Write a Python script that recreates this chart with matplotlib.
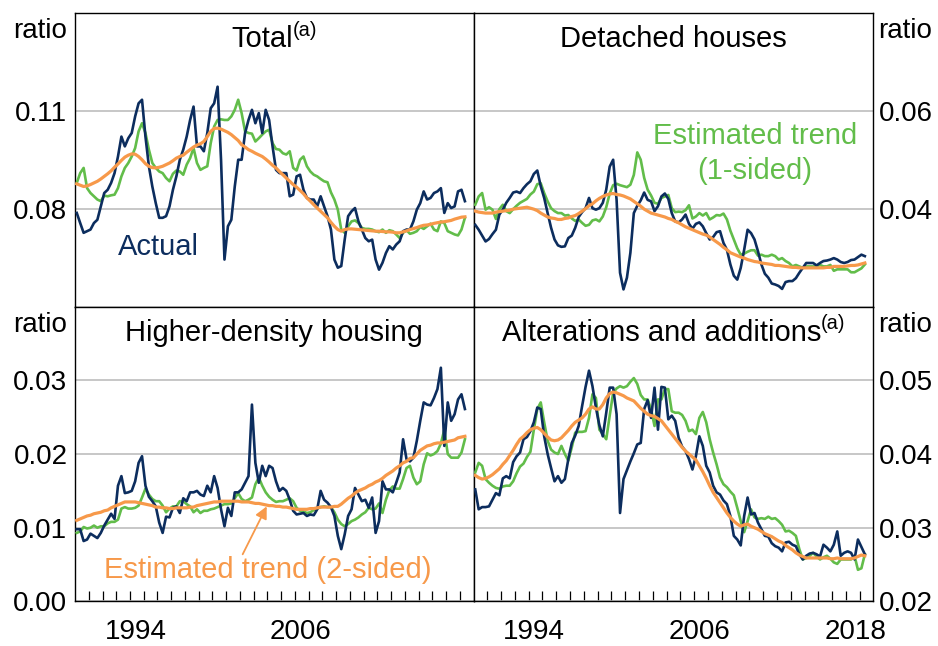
import numpy as np
import matplotlib
matplotlib.use('Agg')
import matplotlib.pyplot as plt

plt.rcParams['font.family'] = ['Liberation Sans', 'DejaVu Sans']

# quarterly observations, 1990 Q1 to 2018 Q2 (ratios, in thousandths)
quarters = 1990.125 + 0.25 * np.arange(114)

total_actual = [
    78.7, 75.6, 72.6, 73.1, 73.6, 75.6, 76.6, 80.7, 84.8, 85.8,
    87.9, 90.9, 96.0, 102.1, 99.1, 101.6, 103.2, 108.3, 112.3, 113.4,
    102.1, 93.0, 86.8, 81.7, 77.2, 77.2, 77.7, 80.7, 85.8, 89.9,
    95.0, 98.1, 102.1, 107.2, 111.3, 99.1, 99.1, 97.6, 103.2, 110.8,
    112.3, 117.4, 95.0, 64.4, 74.6, 76.6, 86.8, 95.0, 95.0, 103.2,
    107.2, 110.3, 106.2, 109.3, 103.2, 110.3, 107.2, 99.1, 91.9, 90.9,
    90.9, 90.9, 83.8, 84.3, 89.9, 90.4, 85.8, 83.3, 82.8, 82.8,
    80.7, 83.8, 80.7, 77.7, 73.6, 64.4, 61.9, 62.4, 70.5, 77.7,
    79.2, 80.2, 76.1, 73.6, 71.0, 70.0, 70.5, 64.4, 61.3, 63.4,
    66.4, 68.5, 67.5, 69.0, 70.0, 73.1, 73.6, 73.6, 76.1, 79.7,
    81.7, 85.3, 82.8, 83.3, 84.8, 85.3, 86.3, 78.7, 81.7, 80.2,
    80.7, 85.3, 85.8, 82.3]
total_1sided = [
    87.9, 90.9, 92.5, 86.3, 84.8, 83.8, 82.8, 82.3, 84.0, 83.8,
    84.1, 84.3, 86.3, 89.9, 92.5, 94.0, 96.0, 98.6, 103.7, 106.2,
    103.2, 98.1, 94.0, 92.5, 91.4, 90.9, 89.4, 88.4, 90.7, 91.7,
    91.4, 90.4, 93.5, 95.5, 98.6, 94.0, 91.9, 92.5, 93.0, 100.1,
    105.2, 107.2, 107.4, 107.2, 107.2, 108.3, 110.3, 113.4, 109.3, 103.7,
    103.2, 103.0, 100.6, 101.6, 102.7, 103.7, 104.2, 100.1, 98.3, 98.1,
    97.0, 96.6, 97.6, 92.5, 91.7, 95.0, 96.0, 93.0, 91.4, 90.4,
    89.9, 89.1, 88.4, 88.1, 85.0, 82.8, 79.7, 73.6, 72.6, 74.6,
    76.1, 76.4, 75.6, 74.1, 73.8, 73.8, 73.6, 73.1, 72.8, 73.6,
    72.6, 73.4, 73.1, 72.1, 71.0, 72.6, 73.4, 72.3, 72.6, 73.1,
    74.4, 73.8, 74.6, 75.4, 73.6, 73.1, 76.1, 75.6, 73.1, 72.6,
    72.1, 71.8, 73.6, 77.2]
total_2sided = [
    87.6, 87.2, 86.8, 87.0, 87.4, 87.9, 88.4, 89.1, 89.9, 90.7,
    91.6, 92.7, 93.7, 94.8, 95.8, 96.4, 96.8, 96.7, 96.0, 95.0,
    93.8, 93.0, 92.6, 92.5, 92.7, 93.0, 93.5, 94.0, 94.7, 95.5,
    96.0, 96.4, 97.3, 98.1, 98.9, 99.5, 99.9, 100.6, 102.1, 103.7,
    104.6, 104.7, 104.4, 103.9, 103.4, 102.7, 101.8, 100.9, 99.6, 98.9,
    98.1, 97.6, 97.0, 96.5, 96.0, 95.2, 94.3, 93.3, 92.5, 91.4,
    90.4, 89.4, 88.4, 87.4, 86.6, 85.6, 84.6, 83.3, 82.3, 81.2,
    80.2, 79.2, 78.2, 77.2, 75.8, 74.6, 73.6, 73.1, 73.6, 73.8,
    73.8, 73.7, 73.6, 73.5, 73.4, 73.3, 73.2, 73.1, 73.1, 73.0,
    72.9, 72.9, 72.8, 72.6, 72.6, 72.9, 73.2, 73.6, 73.9, 74.2,
    74.6, 74.9, 75.0, 75.2, 75.5, 75.7, 75.9, 76.0, 76.2, 76.4,
    76.8, 77.1, 77.4, 77.5]

detached_actual = [
    36.7, 35.7, 34.5, 33.3, 33.8, 34.8, 35.7, 38.8, 39.8, 41.2,
    42.2, 43.3, 43.5, 43.2, 44.2, 45.0, 45.6, 47.1, 47.8, 44.6,
    42.2, 39.1, 36.1, 33.7, 32.5, 32.2, 32.3, 34.0, 34.5, 36.1,
    38.3, 39.3, 40.1, 42.2, 40.1, 39.8, 40.1, 41.2, 43.9, 48.6,
    50.0, 41.8, 26.9, 23.5, 25.9, 31.0, 39.1, 40.6, 41.7, 43.3,
    41.8, 41.5, 39.5, 40.5, 42.5, 43.1, 42.0, 39.1, 37.4, 37.2,
    37.8, 38.8, 36.9, 35.9, 36.9, 37.2, 36.4, 35.0, 33.7, 34.2,
    35.2, 35.4, 33.0, 31.6, 28.6, 26.3, 25.5, 27.9, 31.6, 35.7,
    35.0, 33.7, 31.3, 28.6, 26.7, 25.9, 24.7, 24.5, 24.2, 23.6,
    25.0, 25.2, 25.2, 25.8, 26.9, 27.9, 28.9, 28.9, 28.9, 28.4,
    28.9, 29.3, 29.4, 29.6, 29.9, 29.6, 29.1, 28.9, 29.1, 29.5,
    29.6, 30.1, 30.6, 30.3]
detached_1sided = [
    40.8, 42.5, 43.2, 39.8, 40.3, 39.8, 37.9, 39.9, 40.8, 39.5,
    39.1, 39.9, 40.6, 41.2, 41.6, 42.0, 42.9, 43.5, 45.0, 45.2,
    43.2, 41.5, 40.1, 39.5, 39.1, 39.1, 38.6, 38.7, 38.0, 37.5,
    37.8, 37.1, 36.5, 36.7, 37.6, 37.8, 37.4, 38.4, 40.3, 43.1,
    44.8, 45.1, 44.8, 44.6, 44.4, 44.9, 46.9, 51.5, 50.0, 46.3,
    43.9, 42.7, 41.2, 41.0, 42.2, 42.5, 42.8, 40.1, 39.3, 39.4,
    39.3, 39.7, 40.7, 38.0, 38.4, 39.1, 38.6, 39.1, 37.8, 38.2,
    38.7, 38.6, 39.0, 37.8, 35.5, 33.7, 31.9, 30.6, 30.8, 31.2,
    31.5, 31.5, 30.4, 30.6, 30.3, 30.3, 30.6, 30.3, 29.6, 29.9,
    29.3, 28.9, 28.2, 28.5, 28.2, 27.9, 28.2, 28.2, 28.2, 28.2,
    28.5, 28.2, 28.2, 28.5, 27.3, 27.6, 27.6, 27.6, 27.6, 27.0,
    27.0, 27.4, 27.8, 28.6]
detached_2sided = [
    39.5, 39.3, 39.2, 39.1, 39.1, 39.1, 39.3, 39.4, 39.5, 39.6,
    39.7, 39.9, 40.0, 40.1, 40.2, 40.3, 40.1, 39.9, 39.6, 39.1,
    38.7, 38.3, 38.1, 38.0, 37.8, 37.8, 38.0, 38.1, 38.4, 38.6,
    39.0, 39.5, 40.0, 40.6, 41.0, 41.6, 42.1, 42.5, 42.8, 43.0,
    43.1, 42.9, 42.8, 42.6, 42.3, 42.0, 41.5, 41.0, 40.5, 39.9,
    39.5, 39.1, 38.9, 38.7, 38.5, 38.3, 38.0, 37.8, 37.4, 37.1,
    36.7, 36.3, 36.0, 35.7, 35.4, 35.1, 34.8, 34.6, 34.2, 33.7,
    33.2, 32.7, 32.1, 31.6, 31.0, 30.7, 30.4, 30.1, 29.9, 29.6,
    29.4, 29.2, 29.1, 28.9, 28.8, 28.7, 28.6, 28.4, 28.4, 28.3,
    28.2, 28.1, 28.0, 28.0, 27.9, 27.9, 27.9, 27.9, 27.9, 27.9,
    27.9, 27.9, 28.0, 28.0, 28.2, 28.2, 28.2, 28.2, 28.3, 28.4,
    28.4, 28.5, 28.7, 28.9]

density_actual = [
    9.8, 9.8, 8.2, 8.4, 9.2, 8.9, 8.6, 9.3, 10.3, 11.1,
    11.9, 11.2, 15.7, 17.0, 14.7, 14.8, 15.0, 16.3, 18.8, 19.7,
    15.7, 14.2, 13.6, 12.9, 10.7, 9.3, 11.5, 11.4, 12.7, 12.9,
    12.0, 14.0, 13.6, 14.8, 14.8, 15.0, 14.5, 14.3, 15.7, 14.8,
    17.0, 15.4, 12.5, 10.2, 12.7, 11.6, 14.8, 14.8, 15.2, 16.1,
    17.0, 26.7, 18.8, 16.1, 18.4, 17.0, 18.4, 18.1, 16.3, 15.0,
    15.4, 15.0, 13.8, 12.3, 11.8, 11.9, 12.0, 11.6, 11.8, 11.7,
    12.5, 15.0, 13.8, 13.4, 12.8, 11.6, 8.9, 7.1, 9.1, 11.6,
    12.5, 15.4, 14.5, 13.6, 13.8, 12.7, 14.1, 9.3, 10.9, 16.3,
    15.2, 15.2, 14.8, 16.1, 17.5, 22.0, 19.3, 19.0, 19.5, 21.8,
    24.5, 27.0, 26.7, 26.6, 27.6, 28.8, 31.7, 21.1, 27.0, 24.5,
    25.4, 27.4, 28.1, 26.1]
density_1sided = [
    9.3, 9.5, 10.1, 9.9, 10.0, 10.3, 10.0, 10.2, 10.2, 10.6,
    10.8, 10.8, 11.1, 12.6, 12.8, 12.6, 12.6, 12.7, 13.0, 14.1,
    15.3, 14.5, 13.9, 13.6, 13.6, 13.0, 12.1, 12.6, 12.9, 12.9,
    13.6, 13.6, 13.2, 12.9, 12.1, 12.5, 12.0, 12.3, 12.3, 12.5,
    12.6, 12.8, 13.0, 13.2, 13.2, 13.3, 14.0, 14.7, 13.9, 13.6,
    13.8, 14.1, 15.9, 16.8, 15.7, 14.8, 14.2, 13.8, 13.5, 13.6,
    13.6, 13.8, 14.0, 13.6, 12.7, 12.3, 12.2, 12.0, 12.1, 12.4,
    12.6, 12.8, 12.9, 12.8, 12.8, 12.1, 11.1, 10.5, 10.2, 10.5,
    10.9, 11.1, 11.4, 11.8, 12.1, 12.7, 12.5, 12.6, 13.3, 12.0,
    13.8, 15.1, 15.6, 15.3, 15.3, 16.6, 18.1, 18.4, 16.8, 15.9,
    16.3, 18.6, 20.1, 19.8, 20.0, 20.4, 21.4, 23.3, 20.0, 19.5,
    19.5, 19.5, 20.2, 22.0]
density_2sided = [
    11.0, 11.2, 11.4, 11.6, 11.7, 11.9, 12.0, 12.1, 12.3, 12.4,
    12.7, 12.9, 13.1, 13.3, 13.5, 13.5, 13.5, 13.5, 13.4, 13.3,
    13.2, 13.1, 13.0, 12.8, 12.8, 12.7, 12.7, 12.6, 12.6, 12.7,
    12.7, 12.7, 12.7, 12.8, 12.8, 13.0, 13.1, 13.2, 13.3, 13.4,
    13.5, 13.5, 13.6, 13.6, 13.6, 13.6, 13.6, 13.6, 13.5, 13.5,
    13.5, 13.4, 13.3, 13.3, 13.2, 13.1, 13.0, 13.0, 12.9, 12.9,
    12.8, 12.8, 12.7, 12.6, 12.5, 12.5, 12.5, 12.5, 12.6, 12.6,
    12.7, 12.8, 12.8, 12.8, 12.8, 12.9, 12.9, 13.2, 13.6, 14.0,
    14.3, 14.7, 15.0, 15.2, 15.4, 15.7, 15.9, 16.2, 16.4, 16.7,
    17.1, 17.4, 17.7, 18.1, 18.4, 18.8, 19.0, 19.4, 19.5, 20.0,
    20.5, 20.8, 21.1, 21.2, 21.4, 21.5, 21.5, 21.6, 21.7, 21.8,
    21.9, 22.2, 22.3, 22.4]

alter_actual = [
    35.2, 32.5, 32.8, 32.8, 32.9, 33.8, 34.7, 34.4, 36.7, 37.0,
    36.7, 38.9, 39.7, 40.2, 42.0, 42.3, 43.1, 44.3, 46.3, 46.1,
    42.4, 40.0, 38.1, 36.3, 37.0, 36.1, 36.6, 39.3, 41.5, 42.5,
    43.8, 46.5, 49.1, 51.3, 49.2, 46.3, 43.9, 42.4, 45.6, 49.0,
    49.0, 45.4, 32.0, 36.6, 37.8, 39.0, 40.1, 41.3, 41.5, 46.1,
    47.3, 44.9, 49.0, 43.3, 49.1, 49.0, 44.7, 45.2, 44.5, 42.2,
    41.0, 40.4, 39.3, 37.9, 39.7, 42.4, 41.1, 38.4, 37.5, 35.7,
    34.8, 34.5, 33.7, 33.2, 31.6, 28.9, 28.4, 27.6, 31.6, 34.1,
    31.8, 32.0, 30.7, 29.8, 28.9, 28.8, 27.9, 27.5, 27.3, 26.8,
    28.0, 28.1, 27.7, 27.5, 26.4, 25.7, 26.2, 26.5, 26.6, 26.4,
    26.1, 27.7, 27.3, 26.8, 27.7, 29.5, 26.2, 26.6, 26.8, 26.6,
    25.7, 28.4, 27.4, 26.4]
alter_1sided = [
    37.5, 38.8, 38.4, 36.6, 36.1, 35.7, 35.4, 35.3, 35.6, 35.7,
    35.7, 36.3, 37.4, 38.3, 38.7, 39.6, 40.3, 43.3, 46.1, 47.0,
    44.3, 41.8, 40.6, 40.2, 40.0, 41.1, 40.0, 39.1, 40.9, 42.9,
    43.0, 43.0, 43.1, 44.9, 48.1, 47.6, 43.3, 42.7, 42.0, 45.2,
    48.3, 48.9, 49.2, 49.0, 49.2, 49.8, 50.3, 49.5, 48.0, 47.4,
    47.4, 46.1, 43.8, 47.4, 47.4, 48.8, 48.8, 45.8, 45.6, 45.6,
    45.3, 44.5, 43.1, 43.3, 42.7, 44.9, 45.7, 44.3, 42.0, 40.2,
    38.6, 36.8, 35.9, 35.5, 34.9, 34.4, 32.7, 30.9, 29.4, 30.9,
    32.5, 31.4, 31.2, 31.3, 31.2, 31.5, 31.2, 31.3, 30.9, 30.4,
    29.5, 29.6, 29.3, 28.9, 27.1, 25.7, 25.9, 26.2, 26.6, 26.1,
    25.7, 26.0, 26.2, 25.8, 25.3, 25.1, 25.7, 25.7, 25.7, 25.7,
    26.2, 24.3, 24.5, 26.4]
alter_2sided = [
    37.1, 36.8, 36.6, 36.7, 36.9, 37.2, 37.6, 38.0, 38.6, 39.1,
    39.8, 40.5, 41.3, 42.0, 42.4, 42.9, 43.3, 43.5, 43.6, 43.3,
    42.8, 42.3, 41.9, 41.8, 41.9, 42.2, 42.7, 43.2, 43.8, 44.3,
    44.6, 44.9, 45.4, 46.1, 46.4, 46.1, 46.1, 46.7, 47.6, 48.2,
    48.4, 48.3, 48.1, 47.9, 47.6, 47.4, 47.2, 46.7, 46.2, 45.8,
    45.4, 45.2, 45.1, 44.8, 44.5, 43.9, 43.3, 42.7, 42.1, 41.5,
    40.9, 40.4, 40.0, 39.6, 39.2, 38.4, 37.6, 36.7, 35.7, 34.8,
    34.1, 33.4, 32.7, 32.0, 31.4, 30.9, 30.5, 30.2, 30.4, 30.5,
    30.2, 30.0, 29.8, 29.5, 29.2, 29.0, 28.8, 28.5, 28.2, 28.0,
    27.6, 27.3, 27.0, 26.6, 26.3, 26.1, 25.9, 25.9, 25.9, 25.9,
    25.9, 25.9, 25.9, 25.8, 25.8, 25.9, 25.8, 25.8, 25.8, 25.8,
    25.9, 26.1, 26.3, 26.2]

navy = '#0C2D5E'
green = '#62BD4A'
orange = '#F7994A'
grid_grey = '#BDBDBD'

fig = plt.figure(figsize=(9.38, 6.46), dpi=100)
L, M, R = 0.0800, 0.5048, 0.9312
B, C, T = 0.0689, 0.5255, 0.9799

panels = [
    # title, superscript, data, box, ylim, yticks, labels, side, x labels
    ('Total', '(a)', (total_actual, total_1sided, total_2sided),
     [L, C, M - L, T - C], (0.05, 0.14), [0.08, 0.11], ['0.08', '0.11'], 'left', None),
    ('Detached houses', None, (detached_actual, detached_1sided, detached_2sided),
     [M, C, R - M, T - C], (0.02, 0.08), [0.04, 0.06], ['0.04', '0.06'], 'right', None),
    ('Higher-density housing', None, (density_actual, density_1sided, density_2sided),
     [L, B, M - L, C - B], (0.0, 0.04), [0.0, 0.01, 0.02, 0.03], ['0.00', '0.01', '0.02', '0.03'],
     'left', ([1994.4, 2006.4], ['1994', '2006'])),
    ('Alterations and additions', '(a)', (alter_actual, alter_1sided, alter_2sided),
     [M, B, R - M, C - B], (0.02, 0.06), [0.02, 0.03, 0.04, 0.05], ['0.02', '0.03', '0.04', '0.05'],
     'right', ([1994.4, 2006.4, 2017.7], ['1994', '2006', '2018'])),
]

axes = []
for title, sup, (act, one, two), box, ylim, yt, ylab, side, xl in panels:
    ax = fig.add_axes(box)
    ax.plot(quarters, np.array(one) / 1000, color=green, lw=1.9, zorder=3)
    ax.plot(quarters, np.array(act) / 1000, color=navy, lw=1.9, zorder=4)
    ax.plot(quarters, np.array(two) / 1000, color=orange, lw=2.3, zorder=5)
    ax.set_xlim(1990, 2019)
    ax.set_ylim(*ylim)
    ax.set_yticks(yt)
    ax.set_yticklabels(ylab)
    ax.yaxis.grid(True, color=grid_grey, lw=1.2)
    ax.set_axisbelow(True)
    for s in ax.spines.values():
        s.set_linewidth(1.0)
        s.set_color('black')
    if side == 'right':
        ax.yaxis.tick_right()
        ax.tick_params(axis='y', length=0, labelsize=20, pad=4)
        ax.annotate('ratio', (1, 1), xycoords='axes fraction', xytext=(3.5, -18),
                    textcoords='offset points', ha='left', va='baseline', fontsize=20)
    else:
        ax.tick_params(axis='y', length=0, labelsize=20, pad=5.5)
        ax.annotate('ratio', (0, 1), xycoords='axes fraction', xytext=(-5.5, -18),
                    textcoords='offset points', ha='right', va='baseline', fontsize=20)
    if xl is None:
        ax.set_xticks([])
    else:
        ax.set_xticks(np.arange(1991, 2019), minor=True)
        ax.set_xticks(xl[0])
        ax.set_xticklabels(xl[1])
        ax.tick_params(axis='x', which='major', length=0, labelsize=20, pad=12.5)
        ax.tick_params(axis='x', which='minor', direction='in', length=7, width=0.9)

    # panel title, with a small superscript note where needed
    t = ax.annotate(title, (0.5, 1), xycoords='axes fraction', xytext=(0, -24.5),
                    textcoords='offset points', ha='center', va='baseline', fontsize=21)
    if sup:
        r = fig.canvas.get_renderer()
        w1 = t.get_window_extent(r).width * 72 / fig.dpi
        s = ax.annotate(sup, (0.5, 1), xycoords='axes fraction', xytext=(0, -16.5),
                        textcoords='offset points', ha='left', va='baseline', fontsize=14.5)
        w2 = s.get_window_extent(r).width * 72 / fig.dpi
        t.xyann = (-w2 / 2, -24.5)
        s.xyann = (w1 / 2 - w2 / 2, -16.5)
    axes.append(ax)

ax_tl, ax_tr, ax_bl, ax_br = axes

ax_tl.text(1996.1, 0.0681, 'Actual', color=navy, fontsize=21, ha='center', va='center')
ax_tr.text(2010.4, 0.0549, 'Estimated trend', color=green, fontsize=21, ha='center', va='center')
ax_tr.text(2010.4, 0.0476, '(1-sided)', color=green, fontsize=21, ha='center', va='center')
ax_bl.text(2004.0, 0.0043, 'Estimated trend (2-sided)', color=orange, fontsize=21,
           ha='center', va='center')
ax_bl.annotate('', xy=(2003.95, 0.0129), xytext=(2002.2, 0.0064),
               arrowprops=dict(arrowstyle='-|>', color=orange, lw=1.3, mutation_scale=18,
                               shrinkA=0, shrinkB=0))

fig.savefig('out.png', dpi=100)
